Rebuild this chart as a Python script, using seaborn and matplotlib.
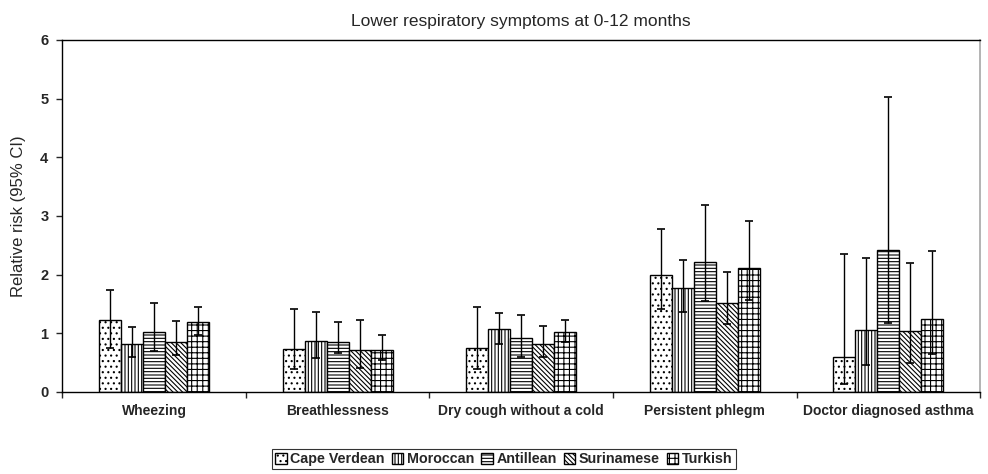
"""Relative risk of lower respiratory symptoms (0-12 months) by ethnic group."""

import matplotlib.pyplot as plt
import numpy as np
import pandas as pd
import seaborn as sns
from matplotlib.patches import Patch

symptoms = [
    "Wheezing", "Breathlessness", "Dry cough without a cold",
    "Persistent phlegm", "Doctor diagnosed asthma",
]
groups = ["Cape Verdean", "Moroccan", "Antillean", "Surinamese", "Turkish"]

# relative risk, one list per group (order follows `symptoms`)
rr_cape = [1.23, 0.74, 0.75, 2.00, 0.60]
rr_moroccan = [0.82, 0.87, 1.07, 1.77, 1.05]
rr_antillean = [1.02, 0.86, 0.92, 2.22, 2.42]
rr_surinamese = [0.86, 0.72, 0.82, 1.52, 1.04]
rr_turkish = [1.19, 0.72, 1.02, 2.12, 1.24]

# 95% CI bounds
lo_cape = [0.75, 0.39, 0.39, 1.41, 0.14]
hi_cape = [1.74, 1.41, 1.45, 2.78, 2.35]
lo_moroccan = [0.60, 0.58, 0.82, 1.36, 0.46]
hi_moroccan = [1.11, 1.36, 1.34, 2.25, 2.28]
lo_antillean = [0.70, 0.66, 0.60, 1.55, 1.17]
hi_antillean = [1.51, 1.19, 1.32, 3.19, 5.03]
lo_surinamese = [0.63, 0.41, 0.60, 1.16, 0.49]
hi_surinamese = [1.21, 1.23, 1.12, 2.05, 2.20]
lo_turkish = [0.97, 0.55, 0.85, 1.57, 0.64]
hi_turkish = [1.45, 0.97, 1.23, 2.92, 2.40]

rr = [rr_cape, rr_moroccan, rr_antillean, rr_surinamese, rr_turkish]
lo = [lo_cape, lo_moroccan, lo_antillean, lo_surinamese, lo_turkish]
hi = [hi_cape, hi_moroccan, hi_antillean, hi_surinamese, hi_turkish]

hatches = ["...", "|||||", "-----", "\\\\\\\\\\\\\\", "+++"]

rows = []
for g, vals, lows, highs in zip(groups, rr, lo, hi):
    for s, v, l, h in zip(symptoms, vals, lows, highs):
        rows.append({"symptom": s, "group": g, "rr": v, "lo": l, "hi": h})
df = pd.DataFrame(rows)

sns.set_theme(style="ticks")
plt.rcParams["font.family"] = ["Liberation Sans", "DejaVu Sans"]
plt.rcParams["hatch.linewidth"] = 0.8

fig = plt.figure(figsize=(9.88, 4.74), dpi=100)
ax = fig.add_axes([0.063, 0.173, 0.929, 0.743])

sns.barplot(
    data=df, x="symptom", y="rr", hue="group", order=symptoms, hue_order=groups,
    palette=["white"] * 5, edgecolor="black", linewidth=1.0, width=0.6,
    errorbar=None, legend=False, ax=ax,
)

for cont, g, hatch in zip(ax.containers, groups, hatches):
    sub = df[df["group"] == g].set_index("symptom").loc[symptoms]
    xs = []
    for bar in cont:
        bar.set_hatch(hatch)
        xs.append(bar.get_x() + bar.get_width() / 2)
    ax.errorbar(
        xs, sub["rr"], yerr=[sub["rr"] - sub["lo"], sub["hi"] - sub["rr"]],
        fmt="none", ecolor="black", elinewidth=1.0, capsize=3, capthick=1.2, zorder=5,
    )

ax.set_ylim(0, 6)
ax.set_xlim(-0.5, len(symptoms) - 0.5)
ax.set_yticks(range(7))
ax.set_xlabel("")
ax.set_ylabel("Relative risk (95% CI)", fontsize=12, labelpad=10)
ax.set_title("Lower respiratory symptoms at 0-12 months", fontsize=12.5, pad=10)

ax.set_xticks(np.arange(-0.5, len(symptoms), 1.0), minor=True)
ax.tick_params(axis="x", which="major", length=0, pad=9)
ax.tick_params(axis="x", which="minor", length=4, width=1, direction="out")
ax.tick_params(axis="y", length=4, width=1, direction="out", pad=6)
for lab in ax.get_xticklabels():
    lab.set_fontweight("bold")
    lab.set_fontsize(10)
for lab in ax.get_yticklabels():
    lab.set_fontweight("bold")
    lab.set_fontsize(10.5)

for side in ["left", "bottom", "top"]:
    ax.spines[side].set_color("black")
    ax.spines[side].set_linewidth(1.0)
ax.spines["right"].set_color("#aaaaaa")

handles = [Patch(facecolor="white", edgecolor="black", hatch=h, label=g)
           for g, h in zip(groups, hatches)]
leg = fig.legend(
    handles=handles, loc="lower center", bbox_to_anchor=(0.51, -0.005), ncol=5,
    frameon=True, fancybox=False, handlelength=0.8, handleheight=0.8,
    handletextpad=0.25, columnspacing=0.5, borderpad=0.2,
    prop={"weight": "bold", "size": 10.3},
)
leg.get_frame().set_edgecolor("black")
leg.get_frame().set_linewidth(0.8)

fig.savefig("out.png", dpi=100)
